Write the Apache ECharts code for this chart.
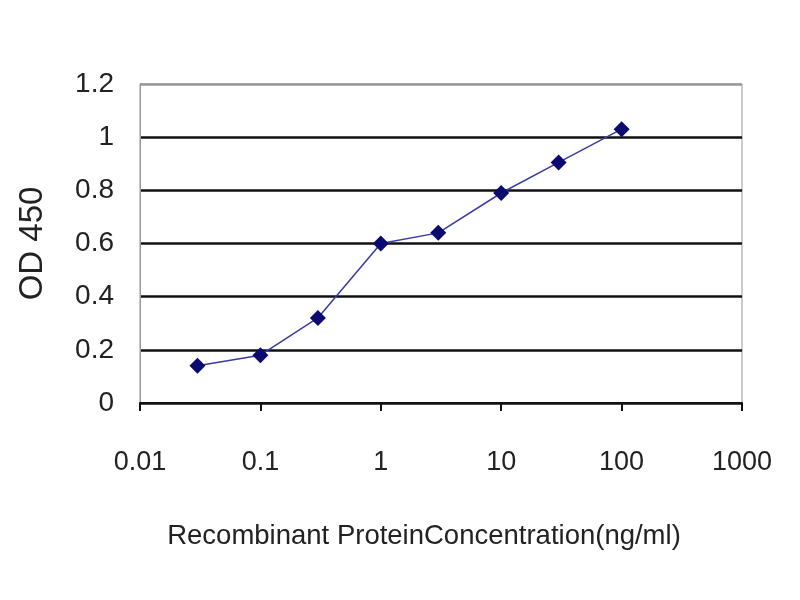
<!DOCTYPE html>
<html>
<head>
<meta charset="utf-8">
<script src="https://cdn.jsdelivr.net/npm/echarts@6/dist/echarts.min.js"></script>
<style>html,body{margin:0;padding:0;background:#fff}#c{width:800px;height:600px}</style>
</head>
<body>
<div id="c"></div>
<script>
const concentrations = [0.03, 0.1, 0.3, 1, 3, 10, 30, 100];
const od450 = [0.14, 0.18, 0.32, 0.60, 0.64, 0.79, 0.905, 1.03];
const xTickLabels = ['0.01', '0.1', '1', '10', '100', '1000'];
const xTitle = 'Recombinant ProteinConcentration(ng/ml)';
const yTitle = 'OD 450';

const chart = echarts.init(document.getElementById('c'));
const font = 'Liberation Sans, Arial, sans-serif';
chart.setOption({
  animation: false,
  backgroundColor: '#fff',
  grid: { left: 140, right: 58, top: 84, bottom: 197, show: true, borderColor: '#999', borderWidth: 1, backgroundColor: 'transparent' },
  xAxis: {
    type: 'log', logBase: 10, min: 0.01, max: 1000,
    name: xTitle, nameLocation: 'middle', nameGap: 119,
    nameTextStyle: { fontFamily: font, fontSize: 27.5, color: '#222', padding: [0, 34, 0, 0] },
    axisLine: { show: true, onZero: false, lineStyle: { color: '#111', width: 2 } },
    axisTick: { show: true, length: 8, lineStyle: { color: '#111', width: 2 } },
    minorTick: { show: false },
    splitLine: { show: false },
    axisLabel: {
      fontFamily: font, fontSize: 27, color: '#222', margin: 46,
      formatter: function (v) {
        const i = Math.round(Math.log10(v)) + 2;
        return xTickLabels[i] !== undefined ? xTickLabels[i] : '';
      }
    }
  },
  yAxis: {
    type: 'value', min: 0, max: 1.2, interval: 0.2,
    name: yTitle, nameLocation: 'middle', nameGap: 91, nameRotate: 90,
    nameTextStyle: { fontFamily: font, fontSize: 33, color: '#222' },
    axisLine: { show: true, lineStyle: { color: '#999', width: 1 } },
    axisTick: { show: false },
    splitLine: { show: true, lineStyle: { color: ['#111', '#111', '#111', '#111', '#111', '#111', '#999'], width: 2.5 } },
    axisLabel: { fontFamily: font, fontSize: 28, color: '#222', margin: 26 }
  },
  series: [{
    type: 'line',
    data: concentrations.map((c, i) => [c, od450[i]]),
    symbol: 'diamond', symbolSize: 16,
    itemStyle: { color: '#0a0a70' },
    lineStyle: { color: '#3a3aa8', width: 1.5 }
  }]
});
</script>
</body>
</html>
